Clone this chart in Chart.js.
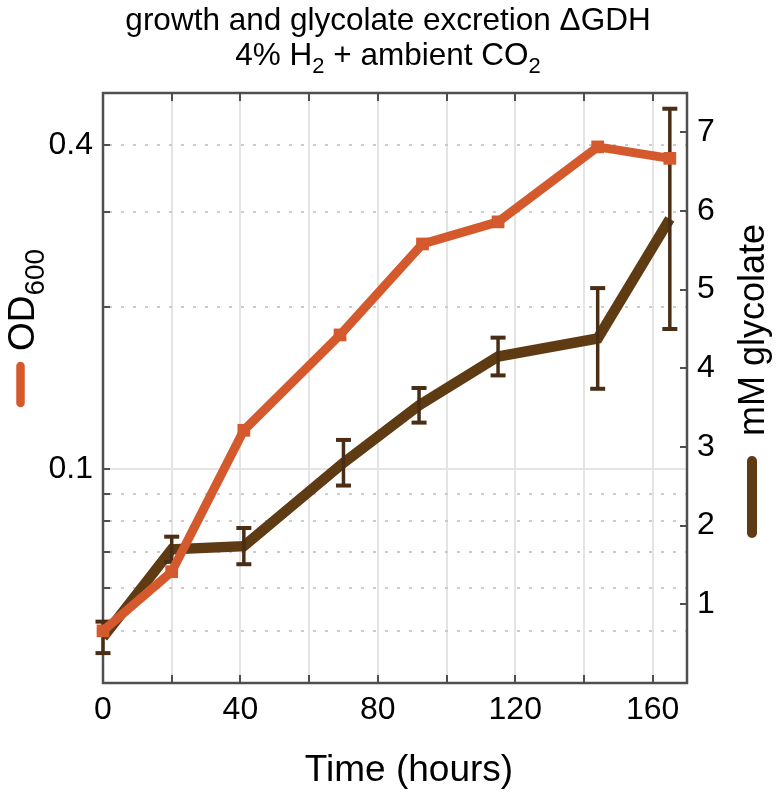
<!DOCTYPE html>
<html>
<head>
<meta charset="utf-8">
<script src="https://cdn.jsdelivr.net/npm/chart.js@4.4.1/dist/chart.umd.min.js"></script>
<style>
  html, body { margin: 0; padding: 0; background: #ffffff; }
  #wrap { width: 776px; height: 794px; }
</style>
</head>
<body>
<div id="wrap"><canvas id="c" width="776" height="794"></canvas></div>
<script>
// ---- data ----
const timeOD = [0, 20, 41, 69, 93, 115, 144, 165];
const od600 = [0.050, 0.0644, 0.118, 0.1775, 0.262, 0.288, 0.397, 0.378];
const timeGly = [0, 20, 41, 70, 92, 115, 144, 165];
const glycolate = [0.58, 1.70, 1.74, 2.80, 3.53, 4.15, 4.38, 5.90];
const glycolateErr = [0.20, 0.16, 0.23, 0.29, 0.22, 0.24, 0.64, 1.40];
const xTickLabels = [0, 40, 80, 120, 160];
const xMinorTicks = [20, 40, 60, 80, 100, 120, 140, 160];
const odTickLabels = [0.1, 0.4];
const odMinorGrid = [0.05, 0.06, 0.07, 0.08, 0.09, 0.2, 0.3, 0.4];
const odTickMarks = [0.05, 0.06, 0.07, 0.08, 0.09, 0.1, 0.2, 0.3, 0.4];
const glyTicks = [1, 2, 3, 4, 5, 6, 7];

const ORANGE = '#D45A2D';
const BROWN = '#5E3B13';
const ERRCOL = '#4A2D15';
const AXCOL = '#4f4f4f';
const FONT = '"Liberation Sans", Arial, Helvetica, sans-serif';

const decor = {
  id: 'decor',
  beforeDatasetsDraw(chart) {
    const ctx = chart.ctx;
    const a = chart.chartArea;
    const sx = chart.scales.x, sy = chart.scales.y;
    ctx.save();
    ctx.strokeStyle = '#e4e4e4';
    ctx.lineWidth = 2;
    xMinorTicks.forEach(v => {
      const px = Math.round(sx.getPixelForValue(v));
      ctx.beginPath(); ctx.moveTo(px, a.top); ctx.lineTo(px, a.bottom); ctx.stroke();
    });
    const p01 = Math.round(sy.getPixelForValue(0.1));
    ctx.beginPath(); ctx.moveTo(a.left, p01); ctx.lineTo(a.right, p01); ctx.stroke();
    ctx.strokeStyle = '#cccccc';
    ctx.setLineDash([3, 9]);
    odMinorGrid.forEach(v => {
      const py = Math.round(sy.getPixelForValue(v));
      ctx.beginPath(); ctx.moveTo(a.left + 6, py); ctx.lineTo(a.right, py); ctx.stroke();
    });
    ctx.setLineDash([]);
    ctx.strokeStyle = AXCOL;
    ctx.lineWidth = 2.5;
    ctx.strokeRect(a.left, a.top, a.right - a.left, a.bottom - a.top);
    ctx.lineWidth = 2;
    xMinorTicks.forEach(v => {
      const px = Math.round(sx.getPixelForValue(v));
      ctx.beginPath(); ctx.moveTo(px, a.bottom); ctx.lineTo(px, a.bottom - 8); ctx.stroke();
      ctx.beginPath(); ctx.moveTo(px, a.top); ctx.lineTo(px, a.top + 8); ctx.stroke();
    });
    odTickMarks.forEach(v => {
      const py = Math.round(sy.getPixelForValue(v));
      ctx.beginPath(); ctx.moveTo(a.left, py); ctx.lineTo(a.left + 7, py); ctx.stroke();
    });
    const sy1 = chart.scales.y1;
    glyTicks.forEach(v => {
      const py = Math.round(sy1.getPixelForValue(v));
      ctx.beginPath(); ctx.moveTo(a.right, py); ctx.lineTo(a.right - 7, py); ctx.stroke();
    });
    ctx.restore();
  },
  afterDatasetDraw(chart, args) {
    if (args.index !== 1) return;
    const ctx = chart.ctx;
    const sx = chart.scales.x, sy1 = chart.scales.y1;
    ctx.save();
    ctx.strokeStyle = ERRCOL;
    ctx.lineCap = 'butt';
    timeGly.forEach((t, i) => {
      const px = sx.getPixelForValue(t);
      const top = sy1.getPixelForValue(glycolate[i] + glycolateErr[i]);
      const bot = sy1.getPixelForValue(glycolate[i] - glycolateErr[i]);
      ctx.lineWidth = 3.5;
      ctx.beginPath(); ctx.moveTo(px, top); ctx.lineTo(px, bot); ctx.stroke();
      ctx.lineWidth = 4;
      ctx.beginPath(); ctx.moveTo(px - 7.5, top); ctx.lineTo(px + 7.5, top); ctx.stroke();
      ctx.beginPath(); ctx.moveTo(px - 7.5, bot); ctx.lineTo(px + 7.5, bot); ctx.stroke();
    });
    ctx.restore();
  },
  afterDraw(chart) {
    const ctx = chart.ctx;
    ctx.save();
    ctx.fillStyle = '#000';
    ctx.textAlign = 'center';
    ctx.textBaseline = 'alphabetic';
    ctx.font = '31.5px ' + FONT;
    ctx.fillText('growth and glycolate excretion \u0394GDH', 388, 30);
    const parts = [['4% H', false], ['2', true], [' + ambient CO', false], ['2', true]];
    const mainF = '31.5px ' + FONT, subF = '22px ' + FONT;
    let total = 0;
    parts.forEach(p => { ctx.font = p[1] ? subF : mainF; total += ctx.measureText(p[0]).width; });
    let x = 388 - total / 2;
    ctx.textAlign = 'left';
    parts.forEach(p => {
      ctx.font = p[1] ? subF : mainF;
      ctx.fillText(p[0], x, p[1] ? 73 : 65);
      x += ctx.measureText(p[0]).width;
    });
    ctx.textAlign = 'center';
    ctx.font = '37px ' + FONT;
    ctx.fillText('Time (hours)', 409, 781);
    ctx.save();
    ctx.translate(34, 300);
    ctx.rotate(-Math.PI / 2);
    ctx.font = '37px ' + FONT;
    const wOD = ctx.measureText('OD').width;
    ctx.font = '28px ' + FONT;
    const w600 = ctx.measureText('600').width;
    const startX = -(wOD + w600) / 2;
    ctx.textAlign = 'left';
    ctx.font = '37px ' + FONT;
    ctx.fillText('OD', startX, 0);
    ctx.font = '28px ' + FONT;
    ctx.fillText('600', startX + wOD, 10);
    ctx.restore();
    ctx.save();
    ctx.translate(764, 330);
    ctx.rotate(-Math.PI / 2);
    ctx.textAlign = 'center';
    ctx.font = '36px ' + FONT;
    ctx.fillText('mM glycolate', 0, 0);
    ctx.restore();
    ctx.lineCap = 'round';
    ctx.strokeStyle = ORANGE;
    ctx.lineWidth = 8.5;
    ctx.beginPath(); ctx.moveTo(20.5, 366); ctx.lineTo(20.5, 403); ctx.stroke();
    ctx.strokeStyle = BROWN;
    ctx.lineWidth = 10;
    ctx.beginPath(); ctx.moveTo(752, 461); ctx.lineTo(752, 533); ctx.stroke();
    ctx.restore();
  }
};

new Chart(document.getElementById('c'), {
  type: 'line',
  data: {
    datasets: [
      {
        label: 'OD600',
        data: timeOD.map((t, i) => ({ x: t, y: od600[i] })),
        yAxisID: 'y',
        borderColor: ORANGE,
        backgroundColor: ORANGE,
        borderWidth: 9,
        pointStyle: 'rect',
        pointRadius: 9,
        pointBorderWidth: 0,
        pointBackgroundColor: ORANGE,
        tension: 0,
        clip: false
      },
      {
        label: 'mM glycolate',
        data: timeGly.map((t, i) => ({ x: t, y: glycolate[i] })),
        yAxisID: 'y1',
        borderColor: BROWN,
        backgroundColor: BROWN,
        borderWidth: 10.5,
        pointRadius: 0,
        tension: 0,
        clip: false
      }
    ]
  },
  options: {
    responsive: false,
    animation: false,
    devicePixelRatio: 1,
    layout: { padding: { top: 93, left: 0, right: 0, bottom: 0 } },
    plugins: { legend: { display: false }, title: { display: false }, tooltip: { enabled: false } },
    scales: {
      x: {
        type: 'linear', position: 'bottom', min: 0, max: 170,
        afterBuildTicks: s => { s.ticks = xTickLabels.map(v => ({ value: v })); },
        afterFit: s => { s.height = 111; },
        grid: { display: false, drawTicks: false },
        border: { display: false },
        ticks: { color: '#000', padding: 8, font: { size: 32, family: FONT }, maxRotation: 0, autoSkip: false }
      },
      y: {
        type: 'logarithmic', position: 'left', min: 0.04, max: 0.5,
        afterBuildTicks: s => { s.ticks = odTickLabels.map(v => ({ value: v })); },
        afterFit: s => { s.width = 103; },
        grid: { display: false, drawTicks: false },
        border: { display: false },
        ticks: { color: '#000', padding: 10, font: { size: 32, family: FONT }, autoSkip: false,
                 callback: v => String(v) }
      },
      y1: {
        type: 'linear', position: 'right', min: 0, max: 7.5,
        afterBuildTicks: s => { s.ticks = glyTicks.map(v => ({ value: v })); },
        afterFit: s => { s.width = 89; },
        grid: { display: false, drawTicks: false },
        border: { display: false },
        ticks: { color: '#000', padding: 10, font: { size: 32, family: FONT }, autoSkip: false,
                 callback: v => String(v) }
      }
    }
  },
  plugins: [decor]
});
</script>
</body>
</html>
